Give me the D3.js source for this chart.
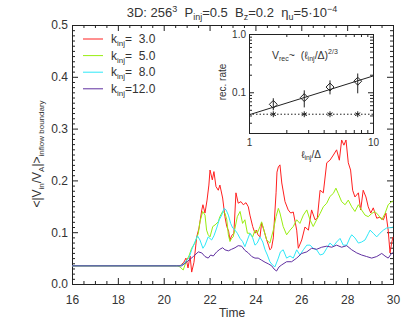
<!DOCTYPE html>
<html>
<head>
<meta charset="utf-8">
<script src="https://cdn.jsdelivr.net/npm/d3@7"></script>
<style>
body { margin: 0; background: #fff; }
text { font-family: "Liberation Sans", Arial, sans-serif; fill: #333; white-space: pre; }
</style>
</head>
<body>
<svg id="chart" width="415" height="332"></svg>
<script>
// time series: [time, <|Vin/VA|>]
const seriesK3 = [
  [16, 0.035], [20.6, 0.035], [20.71, 0.035], [20.88, 0.042], [20.97, 0.050], [21.06, 0.031], [21.15, 0.054],
  [21.22, 0.023], [21.32, 0.042], [21.44, 0.091], [21.54, 0.108], [21.66, 0.143], [21.71, 0.153], [21.80, 0.137],
  [21.89, 0.162], [21.97, 0.191], [22.02, 0.220], [22.12, 0.201], [22.19, 0.217], [22.28, 0.188], [22.38, 0.181],
  [22.45, 0.191], [22.57, 0.166], [22.67, 0.130], [22.75, 0.111], [22.83, 0.102], [22.89, 0.085], [22.96, 0.093],
  [23.06, 0.098], [23.15, 0.176], [23.25, 0.156], [23.37, 0.159], [23.47, 0.153], [23.59, 0.157], [23.69, 0.149],
  [23.76, 0.133], [23.88, 0.111], [23.98, 0.098], [24.05, 0.104], [24.11, 0.095], [24.20, 0.091], [24.27, 0.118],
  [24.37, 0.104], [24.49, 0.085], [24.57, 0.075], [24.63, 0.066], [24.70, 0.069], [24.78, 0.089], [24.90, 0.176],
  [24.94, 0.216], [25.00, 0.226], [25.07, 0.230], [25.15, 0.195], [25.29, 0.159], [25.43, 0.143], [25.54, 0.137],
  [25.65, 0.139], [25.80, 0.104], [25.87, 0.069], [26.02, 0.085], [26.16, 0.110], [26.31, 0.104], [26.45, 0.143],
  [26.60, 0.124], [26.70, 0.127], [26.82, 0.181], [26.96, 0.176], [27.11, 0.234], [27.25, 0.239], [27.40, 0.249],
  [27.54, 0.259], [27.66, 0.239], [27.76, 0.278], [27.86, 0.268], [27.95, 0.278], [28.05, 0.234], [28.15, 0.220],
  [28.24, 0.181], [28.34, 0.168], [28.49, 0.176], [28.59, 0.143], [28.70, 0.181], [28.82, 0.168], [28.92, 0.149],
  [29.03, 0.137], [29.14, 0.147], [29.29, 0.127], [29.43, 0.129], [29.58, 0.124], [29.69, 0.137], [29.79, 0.104],
  [29.87, 0.060], [29.94, 0.079], [30.00, 0.091]
];
const seriesK5 = [
  [16, 0.035], [20.6, 0.035], [20.71, 0.033], [20.85, 0.027], [21.00, 0.046], [21.10, 0.054], [21.22, 0.069],
  [21.36, 0.079], [21.51, 0.098], [21.58, 0.120], [21.70, 0.140], [21.80, 0.133], [21.87, 0.104], [21.94, 0.095],
  [22.02, 0.091], [22.14, 0.111], [22.24, 0.114], [22.38, 0.120], [22.45, 0.130], [22.57, 0.140], [22.67, 0.137],
  [22.75, 0.124], [22.82, 0.095], [22.89, 0.082], [22.96, 0.088], [23.03, 0.091], [23.11, 0.108], [23.21, 0.130],
  [23.33, 0.140], [23.44, 0.117], [23.54, 0.124], [23.65, 0.098], [23.76, 0.098], [23.88, 0.091], [23.98, 0.104],
  [24.08, 0.098], [24.20, 0.111], [24.27, 0.120], [24.37, 0.104], [24.49, 0.085], [24.63, 0.079], [24.78, 0.104],
  [24.90, 0.130], [25.00, 0.146], [25.07, 0.137], [25.21, 0.111], [25.36, 0.095], [25.51, 0.104], [25.65, 0.111],
  [25.80, 0.124], [25.94, 0.117], [26.09, 0.133], [26.24, 0.143], [26.38, 0.124], [26.52, 0.111], [26.67, 0.124],
  [26.82, 0.136], [26.96, 0.149], [27.11, 0.156], [27.25, 0.169], [27.40, 0.175], [27.51, 0.185], [27.61, 0.175],
  [27.76, 0.159], [27.91, 0.153], [28.05, 0.162], [28.20, 0.149], [28.34, 0.140], [28.49, 0.153], [28.63, 0.143],
  [28.78, 0.133], [28.92, 0.130], [29.07, 0.136], [29.21, 0.140], [29.36, 0.133], [29.51, 0.124], [29.65, 0.136],
  [29.79, 0.153], [29.94, 0.159], [30.00, 0.160]
];
const seriesK8 = [
  [16, 0.035], [20.6, 0.035], [20.71, 0.035], [20.88, 0.039], [21.00, 0.046], [21.10, 0.050], [21.22, 0.066],
  [21.36, 0.081], [21.47, 0.093], [21.58, 0.085], [21.71, 0.069], [21.80, 0.075], [21.94, 0.091], [22.09, 0.085],
  [22.19, 0.093], [22.31, 0.108], [22.42, 0.124], [22.53, 0.133], [22.63, 0.146], [22.72, 0.143], [22.82, 0.133],
  [22.92, 0.117], [23.01, 0.108], [23.11, 0.104], [23.21, 0.098], [23.33, 0.088], [23.44, 0.082], [23.54, 0.072],
  [23.65, 0.085], [23.76, 0.098], [23.88, 0.089], [23.98, 0.075], [24.08, 0.079], [24.20, 0.091], [24.32, 0.081],
  [24.42, 0.066], [24.52, 0.056], [24.63, 0.043], [24.74, 0.037], [24.85, 0.033], [25.00, 0.050], [25.09, 0.062],
  [25.21, 0.066], [25.36, 0.050], [25.51, 0.054], [25.65, 0.050], [25.80, 0.066], [25.94, 0.056], [26.09, 0.066],
  [26.24, 0.075], [26.38, 0.075], [26.52, 0.069], [26.67, 0.066], [26.82, 0.056], [26.96, 0.058], [27.11, 0.069],
  [27.25, 0.079], [27.40, 0.073], [27.54, 0.081], [27.69, 0.088], [27.83, 0.075], [27.98, 0.075], [28.12, 0.089],
  [28.20, 0.095], [28.34, 0.089], [28.49, 0.079], [28.63, 0.081], [28.78, 0.085], [28.92, 0.097], [29.00, 0.104],
  [29.14, 0.098], [29.29, 0.091], [29.43, 0.098], [29.58, 0.104], [29.72, 0.108], [29.94, 0.109], [30.00, 0.110]
];
const seriesK12 = [
  [16, 0.035], [20.57, 0.035], [20.78, 0.035], [20.93, 0.040], [21.10, 0.046], [21.29, 0.053], [21.41, 0.058],
  [21.51, 0.062], [21.66, 0.060], [21.80, 0.053], [21.94, 0.050], [22.05, 0.056], [22.16, 0.054], [22.31, 0.062],
  [22.45, 0.067], [22.57, 0.070], [22.67, 0.066], [22.82, 0.064], [22.96, 0.067], [23.11, 0.070], [23.25, 0.074],
  [23.40, 0.073], [23.54, 0.065], [23.69, 0.060], [23.84, 0.053], [23.98, 0.050], [24.12, 0.050], [24.27, 0.046],
  [24.42, 0.042], [24.56, 0.039], [24.71, 0.035], [24.81, 0.029], [24.92, 0.025], [25.03, 0.033], [25.15, 0.037],
  [25.36, 0.043], [25.58, 0.043], [25.80, 0.050], [26.02, 0.059], [26.24, 0.062], [26.45, 0.069], [26.67, 0.067],
  [26.89, 0.071], [27.11, 0.073], [27.33, 0.071], [27.54, 0.075], [27.76, 0.071], [27.98, 0.074], [28.20, 0.066],
  [28.42, 0.060], [28.63, 0.056], [28.85, 0.053], [29.07, 0.050], [29.29, 0.053], [29.51, 0.059], [29.65, 0.054],
  [29.79, 0.050], [29.94, 0.059], [30.00, 0.060]
];

const kinjLabels = ['3.0', '5.0', '8.0', '12.0'];
const lineColors = ['#ff2020', '#99ee11', '#2ee8f8', '#6030a0'];
const allSeries = [seriesK3, seriesK5, seriesK8, seriesK12];

const xTicks = [16, 18, 20, 22, 24, 26, 28, 30];
const yTicks = [0.0, 0.1, 0.2, 0.3, 0.4, 0.5];

// inset: reconnection rate vs l_inj/Delta
const insetL = [1.57, 2.79, 4.5, 7.53];
const insetRate = [0.062, 0.081, 0.123, 0.155];
const insetErrLo = [0.049, 0.055, 0.092, 0.096];
const insetErrHi = [0.079, 0.108, 0.160, 0.210];
const insetStar = [0.042, 0.042, 0.042, 0.042];
const insetFit = [[1, 0.041], [10, 0.19]];
const insetFloor = [[1, 0.042], [10, 0.042]];

const svg = d3.select('#chart');
const ink = '#222';

const x = d3.scaleLinear().domain([16, 30]).range([72, 393]);
const y = d3.scaleLinear().domain([0, 0.5]).range([284, 25]);

// minor ticks
const xMinor = d3.range(32, 61).filter(i => i % 4 !== 0).map(i => i / 2);
const yMinor = d3.range(0, 51).filter(i => i % 10 !== 0).map(i => i / 100);

function styleAxis(g) {
  g.attr('font-size', 12).attr('font-family', null);
  g.selectAll('.domain').attr('stroke', ink);
  g.selectAll('.tick line').attr('stroke', ink);
}

svg.append('g').attr('transform', 'translate(0,284)')
  .call(d3.axisBottom(x).tickValues(xTicks).tickSize(-6).tickSizeOuter(0).tickPadding(11).tickFormat(d3.format('d')))
  .call(styleAxis);
svg.append('g').attr('transform', 'translate(0,284)')
  .call(d3.axisBottom(x).tickValues(xMinor).tickSize(-3).tickSizeOuter(0).tickFormat(''))
  .call(styleAxis);
svg.append('g').attr('transform', 'translate(0,25)')
  .call(d3.axisTop(x).tickValues(xTicks).tickSize(-6).tickSizeOuter(0).tickFormat(''))
  .call(styleAxis);
svg.append('g').attr('transform', 'translate(0,25)')
  .call(d3.axisTop(x).tickValues(xMinor).tickSize(-3).tickSizeOuter(0).tickFormat(''))
  .call(styleAxis);
svg.append('g').attr('transform', 'translate(72,0)')
  .call(d3.axisLeft(y).tickValues(yTicks).tickSize(-6).tickSizeOuter(0).tickPadding(4).tickFormat(d3.format('.1f')))
  .call(styleAxis);
svg.append('g').attr('transform', 'translate(72,0)')
  .call(d3.axisLeft(y).tickValues(yMinor).tickSize(-3).tickSizeOuter(0).tickFormat(''))
  .call(styleAxis);
svg.append('g').attr('transform', 'translate(393,0)')
  .call(d3.axisRight(y).tickValues(yTicks).tickSize(-6).tickSizeOuter(0).tickFormat(''))
  .call(styleAxis);
svg.append('g').attr('transform', 'translate(393,0)')
  .call(d3.axisRight(y).tickValues(yMinor).tickSize(-3).tickSizeOuter(0).tickFormat(''))
  .call(styleAxis);

// data lines
const line = d3.line().x(d => x(d[0])).y(d => y(d[1]));
allSeries.forEach((s, i) => {
  svg.append('path').datum(s)
    .attr('fill', 'none')
    .attr('stroke', lineColors[i])
    .attr('stroke-width', 1)
    .attr('stroke-linejoin', 'round')
    .attr('d', line);
});

// title
const title = svg.append('text').attr('x', 232).attr('y', 17)
  .attr('text-anchor', 'middle').attr('font-size', 13);
title.append('tspan').text('3D: 256');
title.append('tspan').attr('font-size', 9).attr('dy', -5).text('3');
title.append('tspan').attr('dy', 5).text('  P');
title.append('tspan').attr('font-size', 9).attr('dy', 3).text('inj');
title.append('tspan').attr('dy', -3).text('=0.5  B');
title.append('tspan').attr('font-size', 9).attr('dy', 3).text('z');
title.append('tspan').attr('dy', -3).text('=0.2  \u03b7');
title.append('tspan').attr('font-size', 9).attr('dy', 3).text('u');
title.append('tspan').attr('dy', -3).text('=5\u00b710');
title.append('tspan').attr('font-size', 9).attr('dy', -5).text('\u22124');

// axis titles
svg.append('text').attr('x', 232).attr('y', 317)
  .attr('text-anchor', 'middle').attr('font-size', 12).text('Time');

const ylab = svg.append('text')
  .attr('transform', 'translate(41,154) rotate(-90)')
  .attr('text-anchor', 'middle').attr('font-size', 12);
ylab.append('tspan').text('<|V');
ylab.append('tspan').attr('font-size', 8).attr('dy', 3).text('in');
ylab.append('tspan').attr('dy', -3).text('/V');
ylab.append('tspan').attr('font-size', 8).attr('dy', 3).text('A');
ylab.append('tspan').attr('dy', -3).text('|>');
ylab.append('tspan').attr('font-size', 8).attr('dy', 3).text('inflow boundary');

// legend
const legend = svg.append('g');
kinjLabels.forEach((lab, i) => {
  const ly = 39 + i * 16.6;
  legend.append('line').attr('x1', 83).attr('x2', 103).attr('y1', ly).attr('y2', ly)
    .attr('stroke', lineColors[i]).attr('stroke-width', 1);
  const t = legend.append('text').attr('x', 111).attr('y', ly + 4).attr('font-size', 12);
  t.append('tspan').text('k');
  t.append('tspan').attr('font-size', 8).attr('dy', 3).text('inj');
  t.append('tspan').attr('dy', -3).text('=' + (lab.length < 4 ? '\u2007' : '') + lab);
});

// inset
const ix = d3.scaleLog().domain([1, 10]).range([249, 373]);
const iy = d3.scaleLog().domain([0.02, 1]).range([133, 34]);
const inset = svg.append('g');
inset.append('rect').attr('x', 249).attr('y', 34).attr('width', 124).attr('height', 99)
  .attr('fill', '#fff').attr('stroke', 'none');

const ixMajor = [1, 10];
const ixMinor = d3.range(2, 10);
const iyMajor = [0.1, 1];
const iyMinor = [0.02, 0.03, 0.04, 0.05, 0.06, 0.07, 0.08, 0.09, 0.2, 0.3, 0.4, 0.5, 0.6, 0.7, 0.8, 0.9];

function styleInset(g) {
  g.attr('font-size', 10).attr('font-family', null);
  g.selectAll('.domain').attr('stroke', ink);
  g.selectAll('.tick line').attr('stroke', ink);
}
inset.append('g').attr('transform', 'translate(0,133)')
  .call(d3.axisBottom(ix).tickValues(ixMajor).tickSize(-5).tickSizeOuter(0).tickPadding(6).tickFormat(d3.format('d')))
  .call(styleInset);
inset.append('g').attr('transform', 'translate(0,133)')
  .call(d3.axisBottom(ix).tickValues(ixMinor).tickSize(-3).tickSizeOuter(0).tickFormat(''))
  .call(styleInset);
inset.append('g').attr('transform', 'translate(0,34)')
  .call(d3.axisTop(ix).tickValues(ixMajor).tickSize(-5).tickSizeOuter(0).tickFormat(''))
  .call(styleInset);
inset.append('g').attr('transform', 'translate(0,34)')
  .call(d3.axisTop(ix).tickValues(ixMinor).tickSize(-3).tickSizeOuter(0).tickFormat(''))
  .call(styleInset);
inset.append('g').attr('transform', 'translate(249,0)')
  .call(d3.axisLeft(iy).tickValues(iyMajor).tickSize(-5).tickSizeOuter(0).tickPadding(3).tickFormat(d3.format('.1f')))
  .call(styleInset);
inset.append('g').attr('transform', 'translate(249,0)')
  .call(d3.axisLeft(iy).tickValues(iyMinor).tickSize(-3).tickSizeOuter(0).tickFormat(''))
  .call(styleInset);
inset.append('g').attr('transform', 'translate(373,0)')
  .call(d3.axisRight(iy).tickValues(iyMajor).tickSize(-5).tickSizeOuter(0).tickFormat(''))
  .call(styleInset);
inset.append('g').attr('transform', 'translate(373,0)')
  .call(d3.axisRight(iy).tickValues(iyMinor).tickSize(-3).tickSizeOuter(0).tickFormat(''))
  .call(styleInset);

const iline = d3.line().x(d => ix(d[0])).y(d => iy(d[1]));
inset.append('path').datum(insetFit).attr('fill', 'none').attr('stroke', ink).attr('d', iline);
inset.append('path').datum(insetFloor).attr('fill', 'none').attr('stroke', ink)
  .attr('stroke-dasharray', '1.5,2').attr('d', iline);

insetL.forEach((l, i) => {
  inset.append('line').attr('x1', ix(l)).attr('x2', ix(l))
    .attr('y1', iy(insetErrLo[i])).attr('y2', iy(insetErrHi[i])).attr('stroke', ink);
  inset.append('path').attr('transform', `translate(${ix(l)},${iy(insetRate[i])})`)
    .attr('d', d3.symbol(d3.symbolDiamond2, 40)()).attr('fill', 'none').attr('stroke', ink);
  inset.append('path').attr('transform', `translate(${ix(l)},${iy(insetStar[i])})`)
    .attr('d', d3.symbol(d3.symbolAsterisk, 24)()).attr('fill', 'none').attr('stroke', ink);
});

// inset labels
inset.append('text').attr('transform', 'translate(225.5,82) rotate(-90)')
  .attr('text-anchor', 'middle').attr('font-size', 10).text('rec. rate');
const ixl = inset.append('text').attr('x', 311).attr('y', 158)
  .attr('text-anchor', 'middle').attr('font-size', 10);
ixl.append('tspan').text('\u2113');
ixl.append('tspan').attr('font-size', 7).attr('dy', 2).text('inj');
ixl.append('tspan').attr('dy', -2).text('/\u0394');
const form = inset.append('text').attr('x', 272).attr('y', 59).attr('font-size', 10.5);
form.append('tspan').text('V');
form.append('tspan').attr('font-size', 7).attr('dy', 2).text('rec');
form.append('tspan').attr('dy', -2).text('~  (\u2113');
form.append('tspan').attr('font-size', 7).attr('dy', 2).text('inj');
form.append('tspan').attr('dy', -2).text('/\u0394)');
form.append('tspan').attr('font-size', 7).attr('dy', -5).text('2/3');
</script>
</body>
</html>
